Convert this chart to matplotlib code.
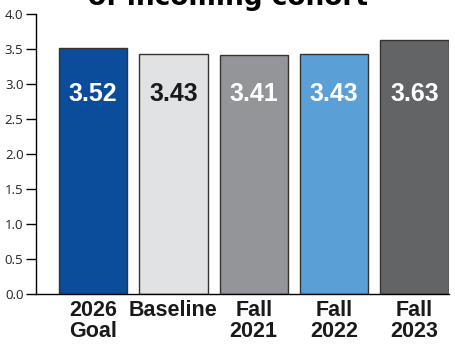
import matplotlib.pyplot as plt

categories = ['2026\nGoal', 'Baseline', 'Fall\n2021', 'Fall\n2022', 'Fall\n2023']
values = [3.52, 3.43, 3.41, 3.43, 3.63]
bar_colors = ['#0b4c9b', '#e1e2e4', '#939598', '#5a9fd5', '#636466']
text_colors = ['white', '#1a1a1a', 'white', 'white', 'white']
yticks = [0.0, 0.5, 1.0, 1.5, 2.0, 2.5, 3.0, 3.5, 4.0]

bold_fam = ['Liberation Sans', 'DejaVu Sans']

fig = plt.figure(figsize=(4.56, 3.49), dpi=100)
ax = fig.add_axes([36 / 456, 55 / 349, 413 / 456, 280 / 349])

x = range(len(values))
ax.bar(x, values, width=0.85, color=bar_colors, edgecolor='#333333', linewidth=1)

for i, v in enumerate(values):
    ax.text(i, 2.86, f'{v:.2f}', ha='center', va='center', color=text_colors[i],
            fontsize=18, fontweight='bold', family=bold_fam)

ax.set_xlim(-0.71, 4.43)
ax.set_ylim(0, 4.0)
ax.set_yticks(yticks)
ax.set_yticklabels([f'{t:.1f}' for t in yticks], fontsize=9.5, color='#222222',
                   family='Open Sans')
ax.tick_params(axis='y', length=7, width=1, direction='out', pad=2)
ax.set_xticks(list(x))
ax.set_xticklabels(categories, fontsize=15.5, fontweight='bold', family=bold_fam,
                   color='#1a1a1a', linespacing=1.0)
ax.tick_params(axis='x', length=0, pad=4)

for s in ['top', 'right']:
    ax.spines[s].set_visible(False)
ax.spines['left'].set_linewidth(1)
ax.spines['bottom'].set_linewidth(1)

# second line of the heading, mostly above the frame
fig.text(0.5, 1.005, 'of incoming cohort', ha='center', va='center',
         fontsize=19, fontweight='bold', family=['DejaVu Sans'])

fig.savefig('out.png', dpi=100)
